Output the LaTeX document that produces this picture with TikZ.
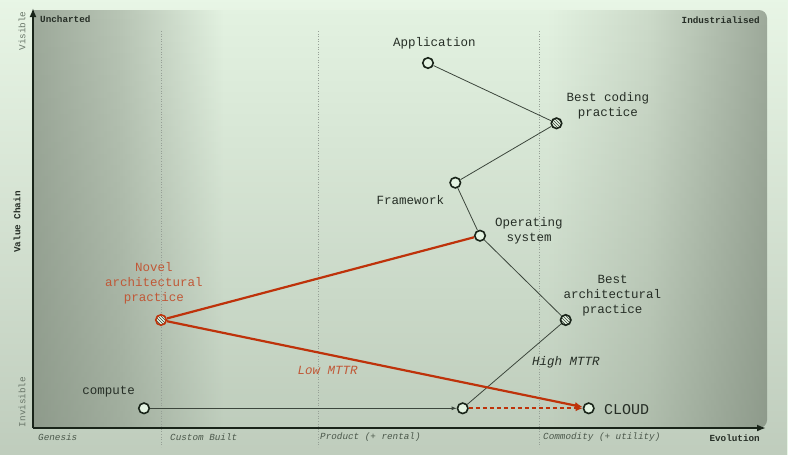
\documentclass[tikz,border=0pt]{standalone}
\usepackage{fontspec}
\setmonofont{Liberation Mono}
\usetikzlibrary{patterns,fadings,arrows.meta}

\definecolor{bglight}{RGB}{232,246,230}
\definecolor{dk}{RGB}{158,170,155}
\definecolor{dkm}{RGB}{185,198,182}
\definecolor{lt}{RGB}{228,243,226}
\definecolor{ltm}{RGB}{205,219,202}
\definecolor{axisc}{RGB}{25,36,25}
\definecolor{linec}{RGB}{60,70,60}
\definecolor{redl}{RGB}{190,50,10}
\definecolor{redt}{RGB}{192,88,55}
\definecolor{txt}{RGB}{38,46,38}
\definecolor{subt}{RGB}{75,88,75}
\definecolor{greyt}{RGB}{105,118,105}
\definecolor{shadec}{RGB}{105,118,102}
\definecolor{dotc}{RGB}{150,160,150}

\pgfdeclarehorizontalshading{wmap}{100bp}{color(0bp)=(dk); color(25bp)=(dk); color(31bp)=(dkm); color(38bp)=(lt); color(60bp)=(lt); color(67bp)=(ltm); color(75bp)=(dk); color(100bp)=(dk)}
\tikzfading[name=fadedown, top color=transparent!100, middle color=transparent!100, bottom color=transparent!68]

\tikzset{
  comp/.style={circle, draw=axisc, line width=1.6pt, fill=lt, minimum size=10.5pt, inner sep=0pt},
  hcomp/.style={circle, draw=axisc, line width=1.6pt, minimum size=10.5pt, inner sep=0pt,
    preaction={fill=lt}, pattern=north west lines, pattern color=axisc!85},
  lbl/.style={font=\ttfamily\fontsize{12.5}{15}\selectfont, text=txt, align=center, inner sep=0pt},
  rlbl/.style={lbl, text=redt},
  small/.style={font=\ttfamily\fontsize{9.3}{11}\selectfont, inner sep=0pt},
  edge/.style={draw=linec, line width=0.8pt},
  redline/.style={draw=redl, line width=2.2pt},
  axisline/.style={draw=axisc, line width=2.4pt, -{Latex[length=9pt,width=7pt]}},
  dotline/.style={draw=dotc, line width=0.6pt, dotted},
}

\begin{document}
\begin{tikzpicture}[x=1pt,y=-1pt]
\useasboundingbox (0,0) rectangle (788,455);
% backgrounds
\fill[bglight] (0,0) rectangle (788,455);
\shade[shading=wmap] (33,428) -- (33,10) {[rounded corners=8pt] -- (767,10) -- (767,428)} -- cycle;
\fill[shadec, path fading=fadedown] (0,0) rectangle (788,455);

% dotted stage lines
\coordinate (d1t) at (161,31); \coordinate (d1b) at (161,447);
\coordinate (d2t) at (318,31); \coordinate (d2b) at (318,447);
\coordinate (d3t) at (539,31); \coordinate (d3b) at (539,447);
\draw[dotline] (d1t) -- (d1b);
\draw[dotline] (d2t) -- (d2b);
\draw[dotline] (d3t) -- (d3b);

% axes
\coordinate (o) at (33,428);
\coordinate (ytop) at (33,8);
\coordinate (xend) at (766,428);
\draw[axisline] (o) -- (ytop);
\draw[axisline] (o) -- (xend);

% axis texts
\node[small, font=\ttfamily\bfseries\fontsize{9.3}{11}\selectfont, text=txt, anchor=west] (unch) at (40,19) {Uncharted};
\node[small, font=\ttfamily\bfseries\fontsize{9.3}{11}\selectfont, text=txt, anchor=east] (indu) at (760,20) {Industrialised};
\node[small, text=greyt, rotate=90] (vis) at (22,31) {Visible};
\node[small, font=\ttfamily\bfseries\fontsize{9.3}{11}\selectfont, text=txt, rotate=90] (vc) at (17,222) {Value Chain};
\node[small, text=greyt, rotate=90] (invis) at (22,402) {Invisible};
\node[small, font=\ttfamily\itshape\fontsize{9.3}{11}\selectfont, text=subt, anchor=west] (gen) at (38,437) {Genesis};
\node[small, font=\ttfamily\itshape\fontsize{9.3}{11}\selectfont, text=subt, anchor=west] (cust) at (170,437) {Custom Built};
\node[small, font=\ttfamily\itshape\fontsize{9.3}{11}\selectfont, text=subt, anchor=west] (prod) at (320,437) {Product (+ rental)};
\node[small, font=\ttfamily\itshape\fontsize{9.3}{11}\selectfont, text=subt, anchor=west] (commo) at (543,437) {Commodity (+ utility)};
\node[small, font=\ttfamily\bfseries\fontsize{9.3}{11}\selectfont, text=txt, anchor=east] (evo) at (760,438) {Evolution};

% components
\node[comp] (app) at (428,63) {};
\node[hcomp] (bcp) at (556.5,123.3) {};
\node[comp] (fw) at (455.3,182.7) {};
\node[comp] (os) at (480,235.7) {};
\node[hcomp] (bap) at (565.7,320) {};
\node[hcomp, draw=redl] (novel) at (161,320) {};
\node[comp] (compute) at (144,408.3) {};
\node[comp] (midc) at (462.7,408.3) {};
\node[comp] (cloud) at (588.7,408.3) {};

% labels
\node[lbl] (lapp) at (434.5,43) {Application};
\node[lbl] (lbcp) at (608,105.5) {Best coding\\practice};
\node[lbl] (lfw) at (410.5,200) {Framework};
\node[lbl] (los) at (529,230.5) {Operating\\system};
\node[lbl] (lbap) at (612.5,295.5) {Best\\architectural\\practice};
\node[rlbl] (lnovel) at (154,283.3) {Novel\\architectural\\practice};
\node[lbl] (lcomp) at (108.7,392) {compute};
\node[lbl, font=\ttfamily\fontsize{15}{17}\selectfont] (lcloud) at (626.5,410) {CLOUD};
\node[lbl, font=\ttfamily\itshape\fontsize{12.5}{15}\selectfont] (lhigh) at (566,362) {High MTTR};
\node[rlbl, font=\ttfamily\itshape\fontsize{12.5}{15}\selectfont] (llow) at (327.7,370) {Low MTTR};

% connectors
\draw[edge] (app) -- (bcp);
\draw[edge] (bcp) -- (fw);
\draw[edge] (fw) -- (os);
\draw[edge] (os) -- (bap);
\draw[edge] (bap) -- (midc);
\draw[edge, -{Latex[length=5pt,width=4pt]}] (compute) -- (midc);
\draw[redline, line width=2pt, dash pattern=on 4pt off 3pt, -{Latex[length=7pt,width=6pt]}] (midc) -- (cloud);
\draw[redline] (novel) -- (os);
\draw[redline, -{Latex[length=8pt,width=7pt]}] (novel) -- (cloud);
\end{tikzpicture}
\end{document}
